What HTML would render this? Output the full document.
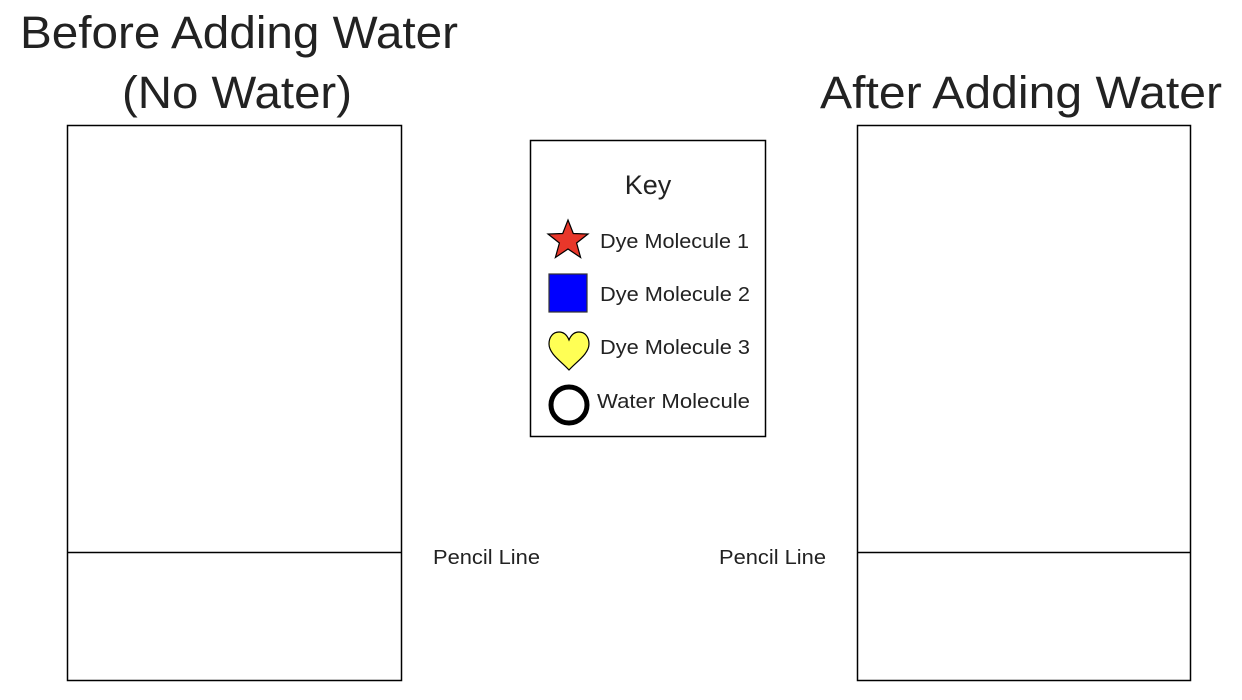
<!DOCTYPE html>
<html><head><meta charset="utf-8"><style>
html,body{margin:0;padding:0;background:#fff;}
svg{display:block;}
text{font-family:"Liberation Sans",sans-serif;fill:#222;}
</style></head><body>
<svg width="1242" height="700" viewBox="0 0 1242 700" xmlns="http://www.w3.org/2000/svg">
<text x="20" y="48" font-size="45" textLength="438" lengthAdjust="spacingAndGlyphs">Before Adding Water</text>
<text x="122" y="108" font-size="45" textLength="230" lengthAdjust="spacingAndGlyphs">(No Water)</text>
<text x="820" y="108" font-size="45" textLength="402" lengthAdjust="spacingAndGlyphs">After Adding Water</text>

<rect x="67.5" y="125.5" width="334" height="555" fill="none" stroke="#000" stroke-width="1.5"/>
<line x1="67" y1="552.5" x2="402" y2="552.5" stroke="#000" stroke-width="1.5"/>
<rect x="857.5" y="125.5" width="333" height="555" fill="none" stroke="#000" stroke-width="1.5"/>
<line x1="857" y1="552.5" x2="1191" y2="552.5" stroke="#000" stroke-width="1.5"/>

<text x="433" y="564" font-size="20" fill="#000" textLength="107" lengthAdjust="spacingAndGlyphs">Pencil Line</text>
<text x="719" y="564" font-size="20" fill="#000" textLength="107" lengthAdjust="spacingAndGlyphs">Pencil Line</text>

<rect x="530.5" y="140.5" width="235" height="296" fill="#fff" stroke="#000" stroke-width="1.5"/>
<text x="648" y="194" font-size="27" text-anchor="middle" fill="#000">Key</text>

<polygon points="568,220 573.3,233.5 588,234 576.6,243 580.6,257.5 568,249 555.4,257.5 559.4,243 548,234 562.7,233.5" fill="#e8372a" stroke="#000" stroke-width="1.2"/>
<rect x="549" y="274" width="38" height="38" fill="#0000ff" stroke="#333" stroke-width="1.2"/>
<path d="M569,370 C562,362 549,354 549,344 C549,337 553,332 559,332 C564,332 567,335 569,340 C571,335 574,332 579,332 C585,332 589,337 589,344 C589,354 576,362 569,370 Z" fill="#ffff55" stroke="#000" stroke-width="1.2"/>
<circle cx="569" cy="405" r="18" fill="#fff" stroke="#000" stroke-width="5"/>

<text x="600" y="248" font-size="20" fill="#000" textLength="149" lengthAdjust="spacingAndGlyphs">Dye Molecule 1</text>
<text x="600" y="301" font-size="20" fill="#000" textLength="150" lengthAdjust="spacingAndGlyphs">Dye Molecule 2</text>
<text x="600" y="354" font-size="20" fill="#000" textLength="150" lengthAdjust="spacingAndGlyphs">Dye Molecule 3</text>
<text x="597" y="408" font-size="20" fill="#000" textLength="153" lengthAdjust="spacingAndGlyphs">Water Molecule</text>
</svg>
</body></html>
